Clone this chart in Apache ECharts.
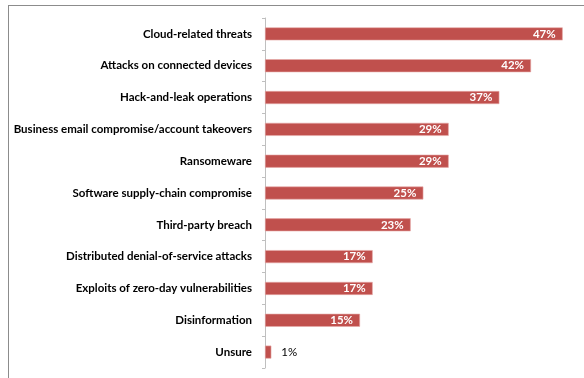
<!DOCTYPE html>
<html><head><meta charset="utf-8">
<script src="https://cdn.jsdelivr.net/npm/echarts@6/dist/echarts.min.js"></script>
<style>html,body{margin:0;padding:0;background:#fff}#c{width:584px;height:378px}</style>
</head><body><div id="c"></div>
<script>
const categories = ["Cloud-related threats","Attacks on connected devices","Hack-and-leak operations","Business email compromise/account takeovers","Ransomeware","Software supply-chain compromise","Third-party breach","Distributed denial-of-service attacks","Exploits of zero-day vulnerabilities","Disinformation","Unsure"];
const values = [47,42,37,29,29,25,23,17,17,15,1];

const chart = echarts.init(document.getElementById('c'), null, {renderer:'canvas'});
const font = 'Lato, "Open Sans", "Liberation Sans", sans-serif';
chart.setOption({
  animation:false,
  backgroundColor:'#fff',
  grid:{left:265, right:21.3, top:18, bottom:10, containLabel:false},
  xAxis:{type:'value', min:0, max:47, show:false},
  yAxis:{type:'category', inverse:true, data:categories,
    axisLine:{show:true, lineStyle:{color:'#bfbfbf', width:1}},
    axisTick:{show:true, length:3, lineStyle:{color:'#bfbfbf'}},
    axisLabel:{margin:13, color:'#000', fontFamily:font, fontWeight:'bold', fontSize:11.5}
  },
  series:[{type:'bar', data:values.map(v=>({value:v,
      label: v<5 ? {position:'right', distance:10, color:'#000', fontWeight:'normal'} : undefined})),
    barWidth:13,
    itemStyle:{color:'#c0504d', borderColor:'#e6a9a7', borderWidth:0.6},
    label:{show:true, position:'insideRight', distance:7, color:'#fff', fontFamily:font, fontWeight:'bold', fontSize:11.5, formatter:'{c}%'}
  }],
  graphic:[
    {type:'line', shape:{x1:8, y1:5.5, x2:584, y2:5.5}, style:{stroke:'#8c8c8c', lineWidth:1}},
    {type:'line', shape:{x1:8.5, y1:5, x2:8.5, y2:378}, style:{stroke:'#8c8c8c', lineWidth:1}}
  ]
});
</script></body></html>
